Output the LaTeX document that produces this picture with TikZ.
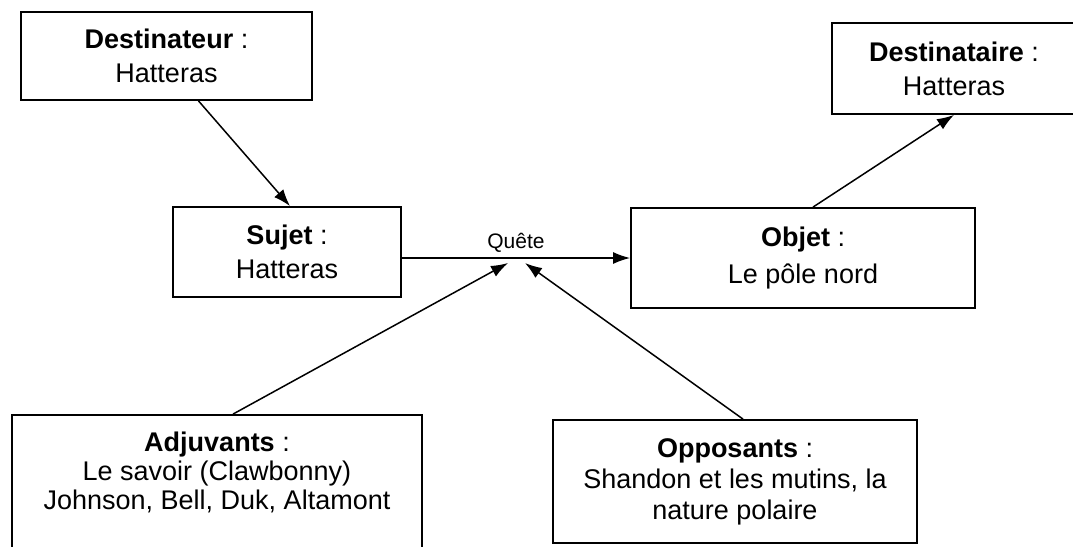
\documentclass[tikz,border=0pt]{standalone}
\usepackage{fontspec}
\setmainfont{Liberation Sans}
\usetikzlibrary{arrows.meta}

\begin{document}
\begin{tikzpicture}[%
        x = 1pt, y = -1pt,
        boite/.style = {draw, line width=1.8pt, align=center, inner sep=0pt},
        fleche/.style = {-{Latex[length=17pt, width=12pt]}, line width=1.5pt},
        texte/.style = {font=\fontsize{27}{34}\selectfont}
    ]
      \useasboundingbox (0,0) rectangle (1073,546);
      % les cases
      \node[boite, texte, minimum width=291pt, minimum height=88pt] (destinateur) at (166.5,56) {\textbf{Destinateur} :\\Hatteras};
      \node[boite, texte, minimum width=244pt, minimum height=91pt] (destinataire) at (954,68.5) {\textbf{Destinataire} :\\Hatteras};
      \node[boite, texte, minimum width=228pt, minimum height=90pt] (sujet) at (287,252) {\textbf{Sujet} :\\Hatteras};
      \node[boite, font=\fontsize{27}{37}\selectfont, minimum width=344pt, minimum height=100pt] (objet) at (803,258) {\textbf{Objet} :\\Le pôle nord};
      \node[boite, minimum width=410pt, minimum height=155pt] (adjuvants) at (217,492.5) {};
      \node[align=center, font=\fontsize{27}{29}\selectfont] (adjuvantsTexte) at (217,472) {\textbf{Adjuvants} :\\Le savoir (Clawbonny)\\Johnson, Bell, Duk, Altamont};
      \node[boite, font=\fontsize{27}{31}\selectfont, minimum width=364pt, minimum height=123pt] (opposants) at (735,481.5) {\textbf{Opposants} :\\Shandon et les mutins, la\\nature polaire};
      % les fleches
      \draw[fleche] ([xshift=32pt]destinateur.south) -- ([xshift=3pt]sujet.north);
      \draw[fleche] ([xshift=10pt]objet.north) -- (destinataire.south);
      \draw[fleche] (sujet.east |- objet.west) -- (objet.west)
          node[midway, anchor=base, yshift=10pt, font=\fontsize{21}{24}\selectfont] (quete) {Quête};
      \coordinate (versQueteA) at (508,263);
      \coordinate (versQueteO) at (525,263);
      \draw[fleche] ([xshift=16pt]adjuvants.north) -- (versQueteA);
      \draw[fleche] ([xshift=8pt]opposants.north) -- (versQueteO);
    \end{tikzpicture}
\end{document}
